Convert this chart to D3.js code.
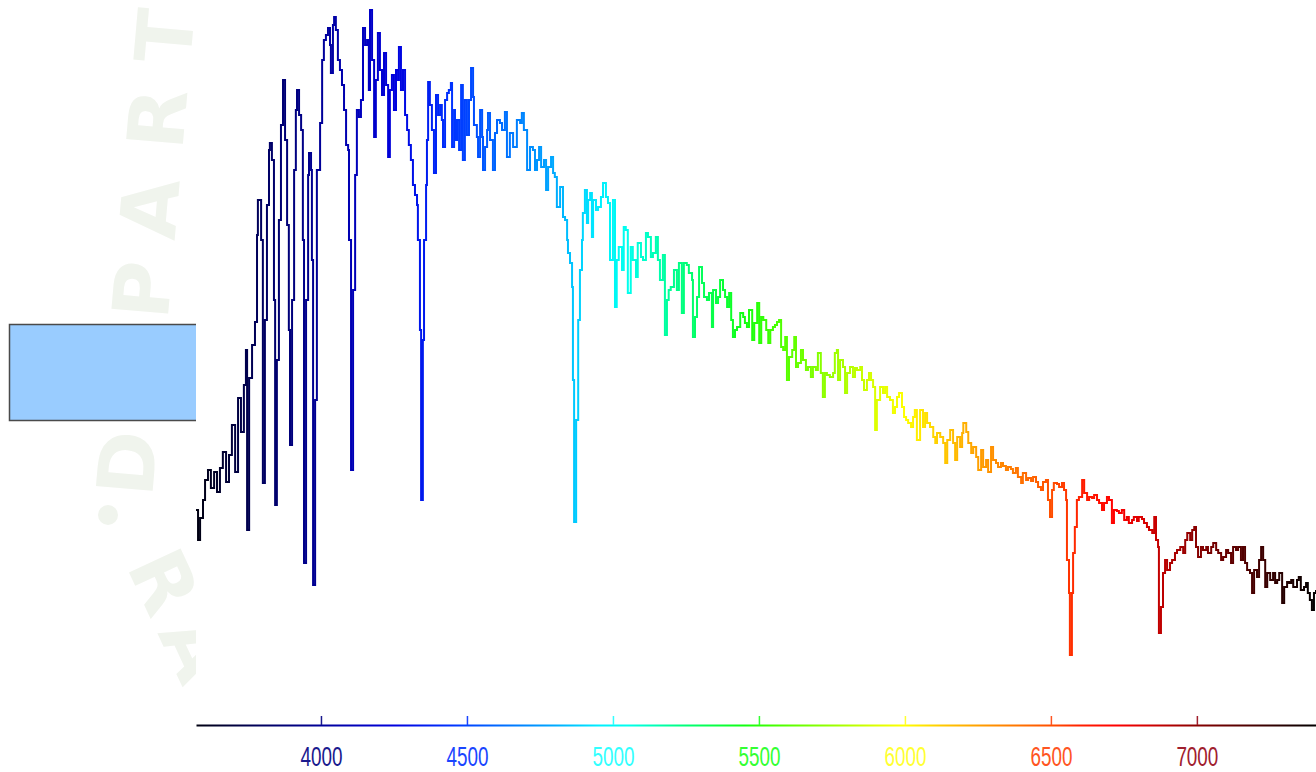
<!DOCTYPE html>
<html>
<head>
<meta charset="utf-8">
<script src="https://cdn.jsdelivr.net/npm/d3@7"></script>
<style>
body { margin: 0; background: #fff; }
svg { display: block; }
.mark { fill: #f0f4ed; font-family: "DejaVu Sans", sans-serif; font-weight: bold; }
</style>
</head>
<body>
<script>
// spectrum: wavelength (Angstrom) and relative flux
const wavelength = [
  3572,3579,3586,3596,3603,3613,3623,3634,3644,3654,3664,3675,3685,3695,3706,3716,3726,3736,3743,3747,3754,3764,3774,3781,3784,3795,3801,
  3808,3815,3822,3825,3832,3839,3843,3849,3856,3863,3870,3877,3884,3890,3894,3901,3908,3914,3918,3925,3932,3938,3942,3949,3956,3959,3966,3969,3973,3980,
  3986,3997,4004,4010,4017,4024,4031,4034,4041,4045,4051,4058,4065,4072,4079,4086,4093,4096,4103,
  4110,4117,4123,4130,4137,4144,4151,4158,4164,4168,4175,4182,4188,4195,4202,4209,4216,4223,4230,4236,
  4243,4250,4257,4264,4267,4274,4281,4288,4295,4301,4308,4315,4322,4329,4332,4339,4343,
  4349,4353,4360,4363,4367,4373,4380,4387,4394,4401,4408,4414,4418,4425,4432,4438,4445,4449,4456,4459,
  4466,4473,4480,4486,4493,4500,4507,4514,4521,4524,4534,4538,4545,4552,4555,4562,4569,4572,4579,4589,
  4596,4603,4613,4620,4630,4637,4647,4658,4671,4682,4688,4695,4706,4716,4726,4733,4740,4747,4754,4764,
  4771,4778,4788,4795,4801,4808,4819,4829,4836,4843,4846,4853,4860,4863,4867,
  4874,4881,4887,4894,4897,4904,4911,4915,4922,4928,4932,4942,4949,4959,4966,4976,4983,4990,5000,5007,
  5013,5020,5031,5037,5044,5051,5061,5068,5079,5085,5096,5103,5113,5120,5130,5137,5147,5154,5161,5171,5178,
  5185,5191,5198,5209,5219,5226,5236,5243,5253,5260,5271,5274,5281,5288,5295,5305,5312,5322,5329,5339,
  5343,5353,5360,5367,5377,5384,5391,5398,5405,5411,5418,5425,5436,5446,5452,5459,5466,5477,5484,5494,
  5501,5508,5515,5525,5532,5539,5548,5555,5562,5569,5576,
  5583,5590,5596,5603,5614,5621,5627,5634,5644,5651,5661,5668,5678,5685,5695,5702,5712,5719,5726,5733,
  5743,5754,5760,5767,5771,5778,5788,5795,5802,5812,5822,5829,5836,5847,5853,5860,5870,5877,5884,5891,5898,
  5904,5915,5925,5932,5939,5949,5959,5966,5973,5980,5990,5997,6004,6011,6021,6028,6034,6041,6052,6062,
  6069,6076,6086,6097,6104,6110,6121,6131,6138,6145,6155,6165,6172,6179,6189,6196,6200,
  6210,6217,6227,6234,6244,6251,6261,6268,6278,6285,6295,6302,6312,6319,6329,6336,6346,6353,6363,6370,
  6380,6387,6398,6404,6415,6422,6432,6439,6449,6456,6466,6473,6483,6490,6497,6504,6510,6521,6528,6538,
  6545,6552,6555,6562,6565,
  6572,6576,6582,6589,6596,6607,6614,6624,6631,6641,6648,6658,6665,6675,6682,6692,6699,6709,6716,6726,
  6733,6743,6751,6760,6767,6778,6784,6795,6801,6812,6819,6829,6836,6847,6854,6860,6867,6870,
  6877,6884,6891,6898,6908,6915,6925,6932,6943,6953,6960,6967,6977,6984,6991,6997,7004,7014,7021,7032,
  7038,7049,7056,7066,7073,7083,7090,7100,7107,7117,7124,7134,7141,7151,7158,7165,7172,7182,7189,7196,
  7206,7213,7220,7227,7234,7241,7251,7261,7268,7275,7282,7292,7299,7309,7316,7323,7330,7343,7349,7356,
  7367,7374,7380,7387,7394,7401,7408
];
const flux = [
  43.0,37.0,41.4,45.0,49.0,51.0,47.4,50.6,46.6,51.4,54.6,48.6,54.0,60.0,50.6,65.4,58.6,68.0,75.0,39.0,69.4,76.0,80.6,98.0,105.0,97.0,48.4,
  81.0,104.0,115.0,116.4,113.0,85.0,44.0,73.0,101.0,120.0,129.0,117.0,100.0,79.0,56.0,85.0,111.0,123.0,127.0,122.0,119.0,97.0,32.4,85.0,110.0,114.4,111.0,93.0,28.0,65.0,
  111.0,120.4,133.0,137.0,138.0,139.4,136.0,130.4,140.0,141.6,139.0,133.0,131.0,128.0,123.0,116.0,115.0,97.0,51.0,
  87.0,110.0,123.0,121.6,125.0,139.4,136.0,137.0,127.0,143.0,133.0,117.6,129.0,138.4,131.0,126.0,134.4,128.0,113.6,127.0,
  130.0,123.0,131.0,129.0,135.6,127.0,131.0,122.0,119.0,116.0,113.0,108.0,106.0,104.0,97.0,79.0,45.0,
  77.0,97.0,108.0,117.0,128.6,124.0,119.0,110.4,126.0,122.0,124.0,121.0,115.6,125.0,126.4,127.0,128.4,115.6,123.0,117.0,
  121.0,115.0,128.0,113.0,125.0,118.0,125.0,131.4,125.6,120.0,117.6,113.6,123.0,117.6,111.0,115.6,119.0,122.4,117.0,111.0,
  118.4,121.0,120.4,119.0,122.6,113.6,118.4,115.6,121.0,120.4,122.4,119.0,111.0,115.6,115.0,111.0,113.0,115.6,111.6,113.0,
  107.0,111.6,113.6,110.4,109.6,103.6,107.6,101.6,101.0,97.0,94.4,92.4,87.6,69.0,40.6,
  61.0,81.0,91.0,97.0,102.4,107.0,100.4,105.0,106.4,97.6,105.0,103.0,103.6,105.6,108.4,105.6,104.4,93.0,105.0,83.6,
  93.0,95.6,91.0,99.6,99.0,86.4,95.6,93.0,89.6,96.4,93.6,93.0,98.4,97.6,93.6,94.4,97.6,93.0,89.0,94.0,78.0,
  85.0,87.0,87.6,91.0,87.0,92.4,82.4,92.4,92.0,90.4,89.0,77.6,81.6,85.6,91.6,88.4,85.6,85.0,86.4,79.6,
  87.0,84.4,85.6,89.0,87.0,85.6,83.6,86.4,81.0,77.6,79.0,79.6,82.4,81.6,80.4,79.6,83.0,77.0,80.4,84.4,
  76.4,81.6,81.0,79.0,76.4,79.0,79.6,80.0,80.6,81.0,75.6,
  75.0,77.6,69.0,73.6,75.0,77.6,71.6,72.4,75.0,73.0,71.0,71.6,69.6,71.6,71.0,74.4,70.4,65.6,70.4,70.0,
  69.6,70.4,74.4,75.0,69.0,73.0,71.6,66.4,70.4,71.6,69.6,71.4,71.0,71.6,69.0,67.0,69.0,70.4,69.0,67.6,59.0,
  65.0,67.6,66.4,67.6,65.6,65.0,62.4,63.6,65.6,66.4,63.6,61.6,61.0,60.4,59.6,61.6,63.0,57.0,63.0,59.6,
  62.4,60.4,59.6,57.6,56.4,58.4,57.6,56.4,52.4,57.0,59.0,56.4,53.0,57.6,55.6,58.4,60.4,
  58.6,56.4,54.4,55.6,53.6,51.0,55.0,51.6,53.0,50.6,55.6,53.0,52.4,51.6,52.4,51.8,51.0,51.6,51.2,50.4,
  51.4,49.6,48.4,50.4,49.0,49.4,48.8,49.6,48.6,47.6,47.0,48.6,49.0,45.0,41.6,47.0,48.4,48.2,47.6,48.4,
  47.0,45.0,33.0,26.4,14.0,
  26.4,34.4,39.6,45.0,45.6,49.0,46.4,45.0,45.6,45.4,46.0,45.0,44.4,43.0,44.4,45.6,45.0,40.4,43.0,42.8,
  42.4,43.0,41.0,41.6,40.4,41.0,41.6,40.8,41.6,41.2,40.4,39.6,39.0,38.4,41.6,37.0,35.6,18.4,
  23.6,30.4,33.0,31.0,32.4,33.0,34.4,35.0,35.6,34.4,37.0,38.4,37.0,39.0,39.6,35.6,33.6,35.6,35.0,35.6,
  34.4,35.6,36.4,35.0,34.4,33.0,33.6,35.0,34.4,32.4,35.6,35.0,35.6,33.0,35.6,32.4,31.0,30.4,26.4,31.0,
  29.6,33.0,35.6,33.0,27.6,30.4,29.0,30.4,28.4,29.0,30.4,24.4,27.6,28.6,28.4,29.0,27.6,29.0,29.6,27.0,
  27.6,28.4,26.4,25.0,23.0,26.4,27.0
];
const tickValues = [4000, 4500, 5000, 5500, 6000, 6500, 7000];

// colour of the rainbow at given wavelengths
const colourStops = [3572, 3800, 4000, 4250, 4450, 4650, 4800, 4950, 5050, 5250, 5450, 5550,
                     5750, 5900, 6000, 6120, 6250, 6400, 6520, 6600, 6720, 6850, 7000, 7200, 7408];
const colourValues = ["#000010", "#000060", "#000099", "#0000dd", "#0033ff", "#0077ff", "#00aaff", "#00eeff",
                      "#00ffee", "#00ff77", "#11ff11", "#44ff00", "#99ff00", "#ddff00", "#ffff00", "#ffcc00",
                      "#ffa000", "#ff7000", "#ff4800", "#ff2000", "#ff0000", "#cc0000", "#880000", "#450000", "#000000"];
const tickColours = ["#1a1a8e", "#1a45ff", "#33ffff", "#33ff33", "#ffff33", "#ff5522", "#a0202e"];

var width = 1316, height = 772;

var svg = d3.select("body").append("svg")
    .attr("width", width)
    .attr("height", height);

var x = d3.scaleLinear().domain([3572, 7408]).range([196, 1316]);
var y = d3.scaleLinear().domain([0, 145]).range([725, 0]);

var defs = svg.append("defs");
var grad = defs.append("linearGradient")
    .attr("id", "rainbow")
    .attr("gradientUnits", "userSpaceOnUse")
    .attr("x1", x(3572)).attr("x2", x(7408))
    .attr("y1", 0).attr("y2", 0);
grad.selectAll("stop")
    .data(colourStops)
    .enter().append("stop")
    .attr("offset", d => (x(d) - x(3572)) / (x(7408) - x(3572)))
    .attr("stop-color", (d, i) => colourValues[i]);

// faint watermark behind everything (only the left strip shows)
var mark = svg.append("g");
mark.append("text").attr("class", "mark")
    .attr("transform", "translate(152,498) rotate(-85)")
    .attr("font-size", 78)
    .attr("letter-spacing", 30)
    .text("DEPART");
mark.append("circle").attr("cx", 108).attr("cy", 515).attr("r", 10).attr("fill", "#f0f4ed");
mark.append("text").attr("class", "mark")
    .attr("transform", "translate(126,566) rotate(65)")
    .attr("font-size", 78)
    .attr("letter-spacing", 14)
    .text("RA");

// blue box on the left
svg.append("rect")
    .attr("x", 9.5).attr("y", 324.5)
    .attr("width", 200).attr("height", 96)
    .attr("fill", "#99ccff")
    .attr("stroke", "#4a4a4a")
    .attr("stroke-width", 1.5);

// white plot area covers the rest
svg.append("rect")
    .attr("x", 196).attr("y", 0)
    .attr("width", width - 196).attr("height", height)
    .attr("fill", "#fff");

var line = d3.line()
    .x((d, i) => x(wavelength[i]))
    .y(d => y(d))
    .curve(d3.curveStepAfter);

svg.append("path")
    .datum(flux)
    .attr("d", line)
    .attr("fill", "none")
    .attr("stroke", "url(#rainbow)")
    .attr("stroke-width", 2);

var axis = d3.axisBottom(x)
    .tickValues(tickValues)
    .tickSizeInner(-9)
    .tickSizeOuter(0)
    .tickPadding(21)
    .tickFormat(d3.format("d"));

var gx = svg.append("g")
    .attr("transform", "translate(0,725)")
    .call(axis);

gx.select(".domain")
    .attr("stroke", "url(#rainbow)")
    .attr("stroke-width", 2);

gx.selectAll(".tick line")
    .attr("stroke", (d, i) => tickColours[i])
    .attr("stroke-width", 1.5);

gx.selectAll(".tick text")
    .attr("fill", (d, i) => tickColours[i])
    .attr("font-family", "'Liberation Sans', Arial, sans-serif")
    .attr("font-size", 28)
    .attr("textLength", 42)
    .attr("lengthAdjust", "spacingAndGlyphs");
</script>
</body>
</html>
